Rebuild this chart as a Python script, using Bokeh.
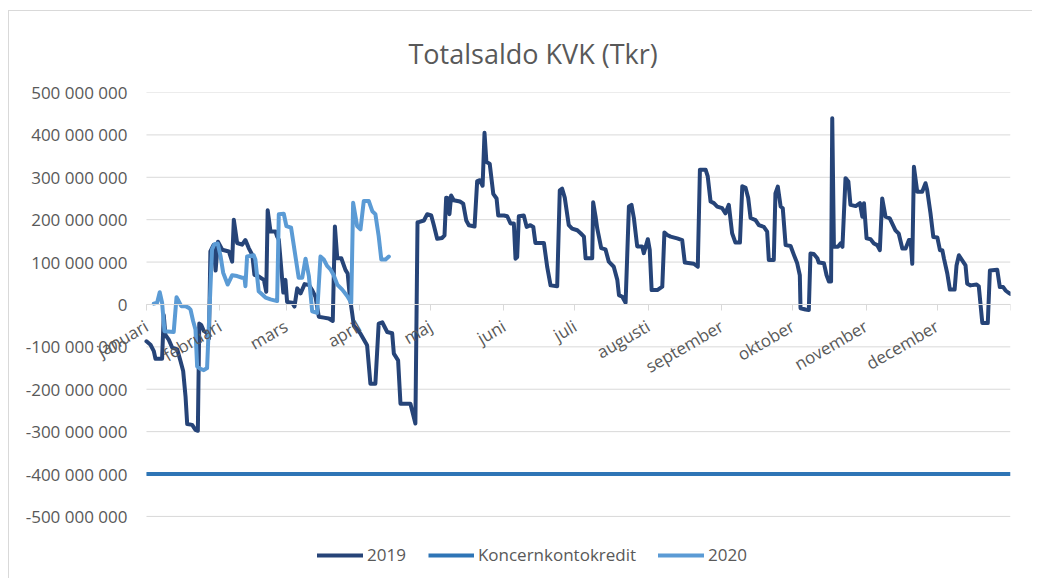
import numpy as np
from bokeh.plotting import figure
from bokeh.models import Range1d, FixedTicker, Legend, LegendItem, LinearAxis
from bokeh.embed import file_html
from bokeh.resources import INLINE

# ---------------- data ----------------
months = ["januari", "februari", "mars", "april", "maj", "juni", "juli",
          "augusti", "september", "oktober", "november", "december"]
month_start_days = [0, 31, 59, 90, 120, 151, 181, 212, 243, 273, 304, 334, 365]

# 2019, day of year -> saldo (miljoner)
days_2019 = [0, 1.7, 3.1, 3.8, 6.6, 7.3, 8.0, 9.4, 10.9, 13.0, 14.4, 15.5, 16.5, 17.2,
             19.3, 20.7, 21.7, 22.3, 23.1, 24.2, 25.6, 26.4, 27.0, 28.3, 29.2, 30.2,
             32.0, 34.8, 36.2, 36.9, 38.3, 40.4, 41.8, 43.2, 44.7, 45.6, 47.4, 49.6,
             50.6, 51.2, 52.4, 54.5, 55.2, 55.9, 57.8, 58.7, 59.4, 61.6, 62.5, 63.7,
             65.1, 66.8, 68.6, 70.0, 71.4, 72.8, 74.9, 77.0, 78.7, 79.6, 80.6, 82.3,
             84.1, 85.0, 85.9, 86.9, 87.6, 90.3, 93.2, 94.6, 96.7, 98.1, 99.6, 101.7,
             103.8, 104.5, 106.3, 107.3, 111.5, 113.6, 114.5, 115.0, 117.2, 118.6,
             120.3, 121.4, 122.8, 124.9, 125.9, 126.6, 127.5, 128.0, 128.7, 129.8,
             132.4, 133.8, 135.1, 136.2, 138.6, 139.7, 140.8, 142.0, 142.8, 143.6,
             145.0, 146.5, 147.9, 148.6, 151.0, 152.4, 153.8, 155.2, 155.9, 156.6,
             157.3, 159.4, 160.6, 162.2, 163.4, 164.3, 167.9, 169.3, 170.7, 173.5,
             174.6, 175.6, 176.7, 178.4, 179.8, 182.0, 183.4, 184.8, 185.5, 188.3,
             188.7, 189.7, 190.4, 192.1, 193.9, 195.3, 197.4, 198.9, 199.6, 201.0,
             202.4, 203.8, 204.9, 205.9, 207.3, 209.4, 210.1, 211.8, 212.6, 213.4,
             215.8, 217.9, 218.8, 220.0, 221.4, 224.2, 226.3, 227.4, 231.2, 232.9,
             233.8, 236.2, 237.1, 238.3, 239.7, 241.1, 243.2, 244.6, 246.0, 247.4,
             248.8, 250.7, 251.7, 253.1, 254.2, 255.2, 257.3, 258.7, 260.8, 262.2,
             262.9, 265.0, 265.7, 266.7, 267.9, 268.8, 270.0, 272.1, 273.5, 274.9,
             276.0, 276.3, 278.4, 279.8, 280.5, 281.9, 283.4, 284.0, 286.2, 287.3,
             288.3, 289.2, 289.7, 290.4, 292.1, 293.2, 294.0, 295.3, 296.5, 297.4,
             299.6, 301.4, 302.4, 303.1, 304.2, 305.9, 307.3, 308.7, 309.8, 310.8,
             312.2, 314.0, 316.4, 317.8, 319.3, 320.7, 322.1, 322.8, 323.5, 324.2,
             325.6, 327.7, 329.1, 329.8, 331.2, 332.4, 334.1, 335.2, 336.2, 336.9,
             338.3, 339.4, 341.4, 342.2, 343.2, 344.6, 346.0, 346.7, 348.1, 350.7,
             351.6, 353.1, 355.4, 356.3, 359.4, 360.5, 361.9, 362.9, 364.3, 365.0]
saldo_2019 = [-87, -95, -110, -128, -128, -25, -72, -83, -102, -106, -134, -157, -217, -282,
              -284, -296, -298, -45, -48, -62, -68, -80, 125, 140, 80, 148,
              129, 125, 101, 200, 145, 141, 152, 133, 117, 70, 66, 58,
              30, 222, 172, 172, 160, 153, 28, 58, 6, 4, -5, 38,
              26, 48, 46, 34, 18, -29, -31, -33, -39, 184, 109, 109,
              81, 73, 18, -21, -50, -68, -96, -187, -187, -45, -42, -65,
              -68, -116, -132, -234, -234, -281, 194, 194, 198, 213,
              210, 187, 155, 157, 163, 252, 250, 213, 257, 246,
              243, 238, 198, 187, 184, 291, 293, 280, 405, 336,
              332, 261, 250, 210, 210, 208, 191, 191, 108, 112,
              208, 210, 183, 187, 183, 145, 145, 88, 45, 43,
              269, 273, 252, 187, 179, 175, 168, 160, 109, 109,
              241, 208, 180, 133, 130, 101, 89, 58, 22, 18,
              4, 231, 235, 204, 137, 137, 121, 154, 129, 34,
              34, 42, 170, 164, 160, 156, 152, 99, 96, 89,
              318, 318, 302, 243, 239, 231, 227, 215, 235, 168,
              146, 146, 279, 275, 251, 204, 199, 187, 183, 172,
              105, 105, 262, 278, 231, 227, 140, 138, 117, 97,
              69, -9, -12, -13, 120, 119, 109, 99, 97, 69,
              54, 54, 439, 136, 136, 144, 136, 298, 290, 235,
              232, 239, 207, 239, 156, 154, 144, 140, 128, 250,
              207, 203, 175, 167, 132, 132, 152, 152, 96, 325,
              266, 266, 286, 270, 215, 159, 158, 128, 128, 108,
              73, 35, 35, 92, 116, 104, 92, 49, 45, 47,
              43, -44, -44, 80, 82, 41, 41, 33, 27, 25]

# 2020, day of year -> saldo (miljoner)
days_2020 = [3.1, 4.5, 5.6, 6.6, 7.6, 11.5, 12.7, 13.6, 14.7, 16.5, 17.9, 18.6, 19.7,
             20.7, 21.4, 22.8, 24.2, 25.6, 27.7, 28.7, 30.1, 31.3, 32.4, 34.3, 36.2,
             38.3, 40.4, 41.4, 41.8, 42.5, 45.3, 46.0, 47.4, 49.6, 50.3, 52.4, 55.2,
             55.9, 58.0, 59.1, 61.1, 64.3, 65.8, 67.2, 68.6, 70.0, 72.1, 73.5, 74.9,
             76.3, 77.7, 79.0, 80.6, 82.7, 84.8, 86.5, 87.3, 89.0, 90.4, 91.8, 93.9,
             95.4, 96.7, 98.1, 99.2, 101.0, 102.4]
saldo_2020 = [2, 4, 29, 4, -63, -65, 17, 8, -4, -4, -8, -12, -39,
              -59, -146, -152, -155, -150, 130, 142, 144, 114, 75, 47, 69,
              67, 63, 63, 43, 113, 116, 106, 31, 20, 16, 12, 8,
              213, 214, 185, 181, 63, 63, 108, 67, -16, -20, 113, 106,
              91, 83, 70, 47, 35, 20, 4, 240, 185, 177, 244, 244,
              220, 213, 161, 106, 106, 113]

kredit_days = [0, 365]
kredit = [-400, -400]

y_ticks = [-500, -400, -300, -200, -100, 0, 100, 200, 300, 400, 500]

MIL = 1_000_000


def fmt(v):
    n = int(v * MIL)
    s = f"{abs(n):,}".replace(",", " ")
    return ("-" if n < 0 else "") + s


FONT = "Open Sans"
TXT = "#595959"
GRID = "#D9D9D9"
year_start, year_end = month_start_days[0], month_start_days[-1]

p = figure(width=1024, height=568, x_range=Range1d(-22.8, 365),
           y_range=Range1d(-637 * MIL, 500 * MIL),
           output_backend="svg", toolbar_location=None, x_axis_location=None,
           min_border_left=83, min_border_right=23, min_border_top=81,
           min_border_bottom=5)
p.styles = {"margin-left": "8px", "margin-top": "10px",
            "border-left": "1px solid #D9D9D9", "border-top": "1px solid #D9D9D9"}
p.outline_line_color = None
p.background_fill_color = "white"
p.border_fill_color = "white"

p.title.text = "Totalsaldo KVK (Tkr)"
p.title.align = "left"
p.title.offset = 316
p.title.vertical_align = "top"
p.title.standoff = 38
p.title.text_font = FONT
p.title.text_font_size = "27px"
p.title.text_font_style = "normal"
p.title.text_color = TXT

tick_vals = [int(v * MIL) for v in y_ticks]
p.yaxis.ticker = FixedTicker(ticks=tick_vals)
p.yaxis.major_label_overrides = {int(v * MIL): fmt(v) for v in y_ticks}
p.yaxis.axis_line_color = None
p.yaxis.major_tick_line_color = None
p.yaxis.minor_tick_line_color = None
p.yaxis.major_tick_out = 0
p.yaxis.major_tick_in = 0
p.yaxis.major_label_standoff = -35
p.yaxis.major_label_text_font = FONT
p.yaxis.major_label_text_font_size = "17px"
p.yaxis.major_label_text_color = TXT

# horizontal gridlines spanning the year only
p.ygrid.visible = False
p.xgrid.visible = False
p.segment(x0=[year_start] * len(tick_vals), x1=[year_end] * len(tick_vals),
          y0=tick_vals, y1=tick_vals, line_color=GRID, line_width=1)

# month axis crossing at zero
xaxis = LinearAxis(fixed_location=0, bounds=(year_start, year_end),
                   ticker=FixedTicker(ticks=month_start_days),
                   major_label_overrides={d: (months[i] if i < 12 else "")
                                          for i, d in enumerate(month_start_days)},
                   major_label_orientation=np.pi / 6,
                   axis_line_color=GRID, major_tick_line_color=GRID,
                   minor_tick_line_color=None,
                   major_tick_out=6, major_tick_in=0,
                   major_label_standoff=14,
                   major_label_text_font=FONT, major_label_text_font_size="17px",
                   major_label_text_color=TXT)
p.add_layout(xaxis, "below")

r19 = p.line(days_2019, [v * MIL for v in saldo_2019], line_color="#264478",
             line_width=4, line_join="round", line_cap="round")
rk = p.line(kredit_days, [v * MIL for v in kredit], line_color="#2E75B6",
            line_width=4)
r20 = p.line(days_2020, [v * MIL for v in saldo_2020], line_color="#5B9BD5",
             line_width=4, line_join="round", line_cap="round")

legend = Legend(items=[LegendItem(label="2019", renderers=[r19]),
                       LegendItem(label="Koncernkontokredit", renderers=[rk]),
                       LegendItem(label="2020", renderers=[r20])],
                orientation="horizontal", location=(225, 8),
                glyph_width=46, glyph_height=20, label_standoff=4, spacing=22,
                padding=0, margin=0, border_line_color=None,
                background_fill_alpha=0,
                label_text_font=FONT, label_text_font_size="17px",
                label_text_color=TXT)
p.add_layout(legend)

open("out.html", "w").write(file_html(p, INLINE))
